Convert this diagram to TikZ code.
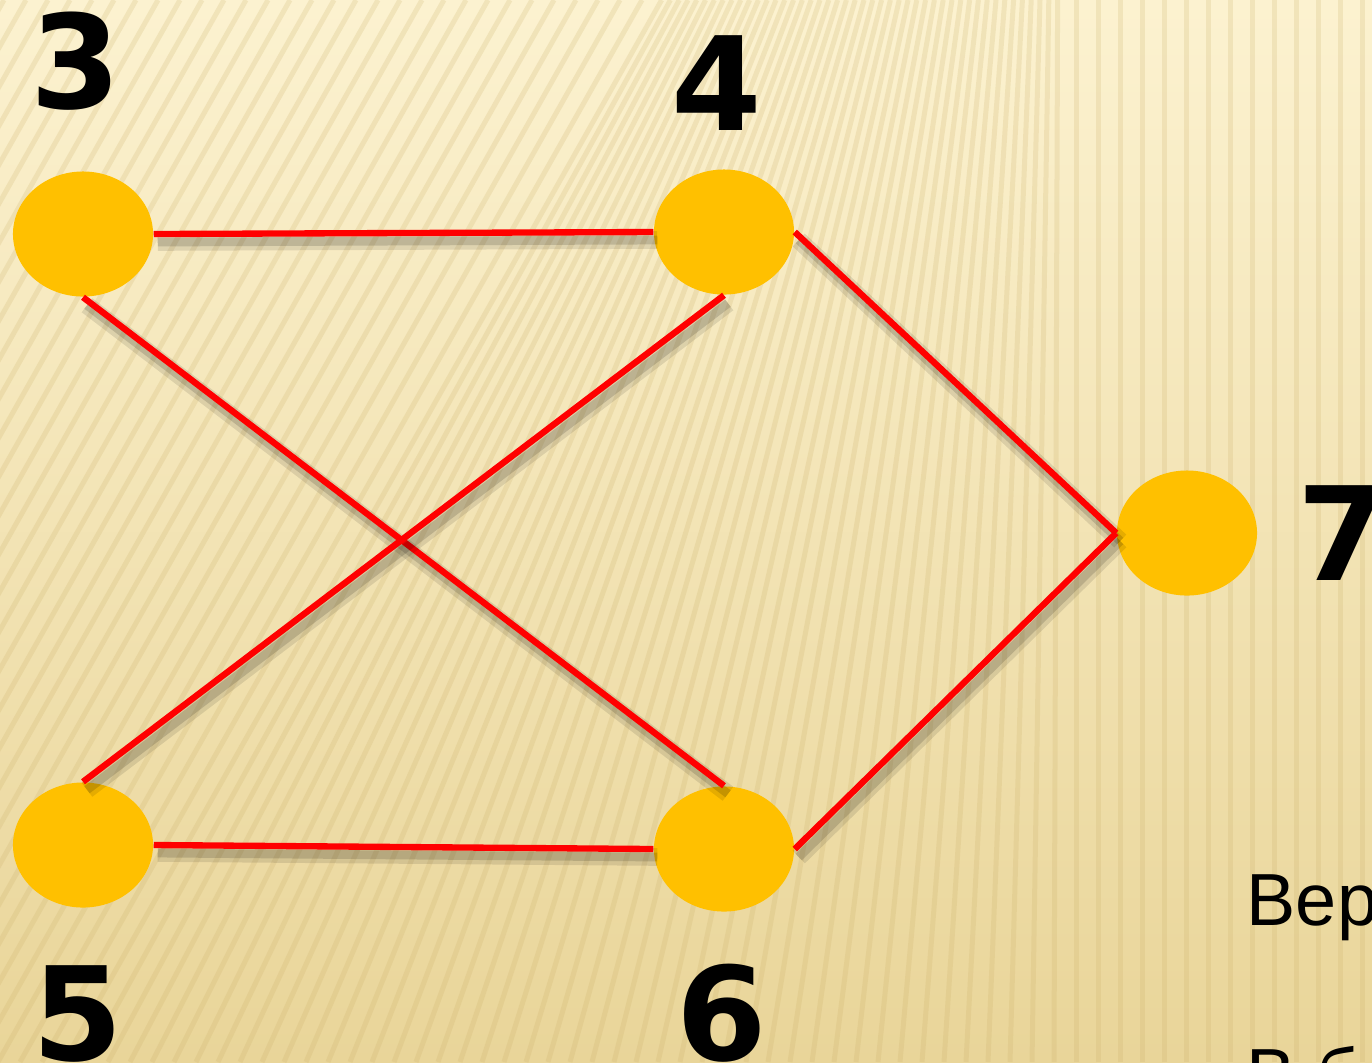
\documentclass[tikz,border=0pt]{standalone}
\usepackage{fontspec}
\setmainfont{Liberation Sans}
\newfontfamily\numfont{DejaVu Sans}
\usetikzlibrary{positioning,calc,shapes.geometric}

\definecolor{bgtop}{RGB}{252,242,208}
\definecolor{bgbot}{RGB}{233,213,153}
\definecolor{stripe}{RGB}{200,172,100}
\definecolor{vert}{RGB}{255,192,0}

\begin{document}
\begin{tikzpicture}[x=0.01cm,y=-0.01cm,
   vx/.style={ellipse,fill=vert,minimum width=1.4cm,minimum height=1.25cm,inner sep=0pt},
   lbl/.style={font=\numfont\bfseries\fontsize{37}{40}\selectfont,anchor=base,inner sep=0pt},
   ed/.style={draw=red,line width=1.8pt,
     preaction={draw=black,opacity=0.10,line width=5pt,transform canvas={shift={(0.04cm,-0.08cm)}}},
     preaction={draw=black,opacity=0.14,line width=2.5pt,transform canvas={shift={(0.04cm,-0.08cm)}}}},
   strp/.style={draw=stripe,opacity=0.2,line width=0.05cm}]
  % background
  \useasboundingbox (0,0) rectangle (1372,1062);
  \shade[top color=bgtop,bottom color=bgbot] (0,0) rectangle (1372,1062);
  \begin{scope}
    \clip (0,0) rectangle (1372,1062);
    \foreach \x [evaluate=\x as \t using {\x+min(600,max(0,0.6*(1060-\x)))}] in {-640,-618,...,1400}
      \draw[strp] (\x,1062) -- (\t,0);
  \end{scope}
  % vertices
  \node[vx] (v3) at (83,234) {};
  \node[vx] (v4) at (724,232) {};
  \node[vx] (v7) at (1187,533) {};
  \node[vx] (v5) at (83,845) {};
  \node[vx] (v6) at (724,849) {};
  % edges
  \draw[ed] (v3.east) -- (v4.west);
  \draw[ed] (v3.south) -- (v6.north);
  \draw[ed] (v4.south) -- (v5.north);
  \draw[ed] (v4.east) -- (v7.west);
  \draw[ed] (v6.east) -- (v7.west);
  \draw[ed] (v5.east) -- (v6.west);
  % labels
  \node[lbl] (l3) at (76,108) {3};
  \node[lbl] (l4) at (717,130) {4};
  \node[lbl] (l7) at (1343,580) {7};
  \node[lbl] (l5) at (78,1060) {5};
  \node[lbl] (l6) at (722,1060) {6};
  \node[font=\fontsize{21}{24}\selectfont,anchor=base west,inner sep=0pt] (t1) at (1246,925) {Вер};
  \node[font=\fontsize{21}{24}\selectfont,anchor=base west,inner sep=0pt] (t2) at (1246,1100) {В б};
\end{tikzpicture}
\end{document}
